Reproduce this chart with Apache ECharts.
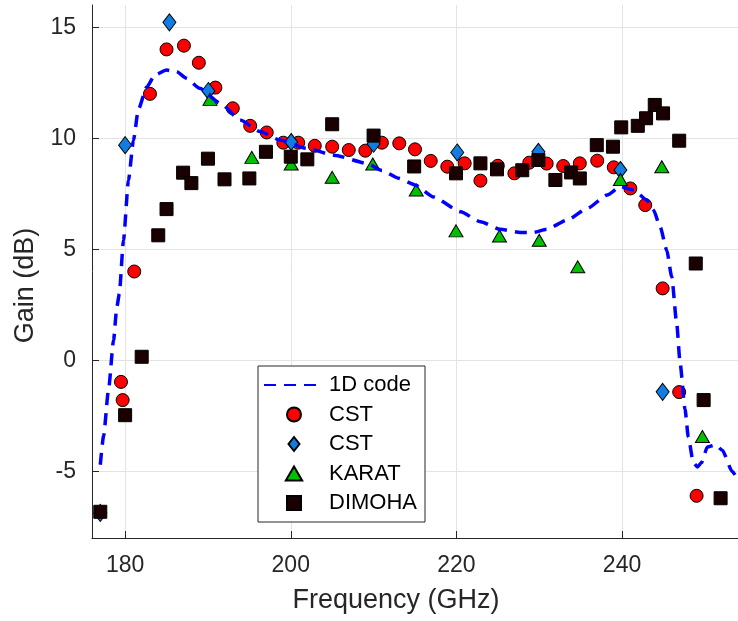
<!DOCTYPE html>
<html><head><meta charset="utf-8">
<script src="https://cdn.jsdelivr.net/npm/echarts@6/dist/echarts.min.js"></script>
<style>html,body{margin:0;padding:0;background:#fff}#c{width:738px;height:621px}</style>
</head><body><div id="c"></div>
<script>
// ---- data ----
const xTicks = [180, 200, 220, 240];
const yTicks = [-5, 0, 5, 10, 15];

const codeFreq = [177.0,177.4,178.0,178.6,179.0,179.3,179.8,180.4,181.0,181.6,182.6,183.6,185.0,186.2,187.4,189.0,191.5,193.9,196.3,198.7,201.9,205.2,209.2,211.0,213.0,215.0,217.2,220.5,222.9,225.3,227.7,229.3,230.9,233.4,235.8,238.2,239.8,241.4,243.0,243.8,244.6,245.4,246.0,246.6,247.0,247.6,248.0,248.6,249.1,249.6,250.3,251.3,252.1,253.3,254.0];
const codeGain = [-4.7,-3.4,-1.3,0.9,2.4,3.0,5.4,8.1,9.9,11.3,12.3,12.85,13.07,13.0,12.7,12.25,11.57,10.82,10.3,9.92,9.55,9.24,8.87,8.55,8.2,7.9,7.36,6.69,6.24,5.9,5.76,5.76,5.9,6.32,6.84,7.44,7.82,7.67,7.22,6.77,6.01,4.96,3.76,1.66,-0.1,-2.2,-3.45,-4.6,-4.8,-4.6,-3.9,-3.8,-4.05,-5.0,-5.4];

const cstFreq = [179.5,179.7,181.1,183.0,185.0,187.1,188.9,190.9,193.0,195.1,197.1,199.1,200.9,202.9,205.0,207.0,209.0,211.0,213.1,215.0,216.9,218.9,221.0,222.9,225.0,227.0,228.8,230.9,232.9,234.9,237.0,239.0,241.0,242.8,244.9,246.9,249.0];
const cstGain = [-0.97,-1.79,4.0,12.0,14.0,14.17,13.4,12.28,11.35,10.56,10.26,9.8,9.8,9.66,9.62,9.47,9.44,9.8,9.77,9.5,8.98,8.72,8.87,8.09,8.76,8.42,8.9,8.86,8.75,8.87,8.99,8.69,7.74,6.99,3.24,-1.43,-6.1];

const cst2Freq = [177.0,180.0,185.35,190.05,200.05,210.0,220.1,229.9,239.8,244.9];
const cst2Gain = [-6.87,9.69,15.22,12.13,9.83,9.75,9.36,9.39,8.57,-1.42];

const karatFreq = [190.25,195.3,200.05,205.0,209.9,215.15,219.95,225.2,230.0,234.65,239.8,244.8,249.7];
const karatGain = [11.75,9.14,8.84,8.24,8.84,7.67,5.83,5.6,5.41,4.21,8.14,8.72,-3.43];

const dimFreq = [177.0,180.0,182.0,184.0,185.0,187.0,188.0,190.0,192.0,195.0,197.0,200.0,202.0,205.0,210.0,214.9,219.95,222.9,224.9,227.95,229.9,231.95,233.85,234.9,236.95,238.9,239.9,241.9,242.9,243.95,244.95,246.9,248.9,249.85,251.9];
const dimGain = [-6.82,-2.47,0.16,5.63,6.81,8.45,7.98,9.08,8.15,8.19,9.39,9.17,9.05,10.63,10.12,8.73,8.42,8.87,8.6,8.56,9.02,8.12,8.46,8.19,9.69,9.62,10.49,10.56,10.9,11.5,11.12,9.89,4.36,-1.79,-6.21];

const seriesNames = ['1D code', 'CST', 'CST ', 'KARAT', 'DIMOHA'];

// ---- chart ----
const zip = (a, b) => a.map((v, i) => [v, b[i]]);
const FONT = 'Liberation Sans, Arial, Helvetica, sans-serif';
const TXT = '#262626';
const chart = echarts.init(document.getElementById('c'), null, {renderer: 'canvas'});
const mk = {borderColor: '#000', borderWidth: 1, opacity: 1};
chart.setOption({
  animation: false,
  backgroundColor: '#fff',
  grid: {left: 92, right: 0, top: 5, bottom: 83},
  xAxis: {
    type: 'value', min: 176, max: 254,
    name: 'Frequency (GHz)', nameLocation: 'middle', nameGap: 49,
    nameTextStyle: {fontSize: 27, color: TXT, fontFamily: FONT, padding: [0, 38, 0, 0]},
    axisLine: {show: true, onZero: false, lineStyle: {color: TXT, width: 1}},
    axisTick: {show: true, inside: true, length: 7, customValues: xTicks, lineStyle: {color: TXT}},
    axisLabel: {customValues: xTicks, fontSize: 23, color: TXT, fontFamily: FONT, margin: 16},
    splitLine: {show: true, lineStyle: {color: '#e3e3e3', width: 1}}
  },
  yAxis: {
    type: 'value', min: -8, max: 16,
    name: 'Gain (dB)', nameLocation: 'middle', nameGap: 52, nameRotate: 90,
    nameTextStyle: {fontSize: 27, color: TXT, fontFamily: FONT, padding: [0, 28, 0, 0]},
    axisLine: {show: true, onZero: false, lineStyle: {color: TXT, width: 1}},
    axisTick: {show: true, inside: true, length: 7, customValues: yTicks, lineStyle: {color: TXT}},
    axisLabel: {customValues: yTicks, fontSize: 23, color: TXT, fontFamily: FONT, margin: 16},
    splitLine: {show: true, lineStyle: {color: '#e3e3e3', width: 1}}
  },
  legend: {
    orient: 'vertical', left: 258, top: 366,
    itemWidth: 60, itemHeight: 14, itemGap: 7.5,
    padding: [8, 8, 8, 5],
    borderColor: TXT, borderWidth: 1, backgroundColor: '#fff',
    textStyle: {fontSize: 22, color: '#000', fontFamily: FONT, lineHeight: 22},
    data: [
      {name: seriesNames[0], itemStyle: {opacity: 0}},
      {name: seriesNames[1], icon: 'circle'},
      {name: seriesNames[2], icon: 'path://M5.5,0L11,7L5.5,14L0,7Z'},
      {name: seriesNames[3], icon: 'path://M7,0L14,12L0,12Z'},
      {name: seriesNames[4], icon: 'path://M0,0L13,0L13,13L0,13Z'}
    ]
  },
  series: [
    {name: seriesNames[0], type: 'line', data: zip(codeFreq, codeGain), showSymbol: false, symbol: 'none',
     smooth: 0.2, smoothMonotone: 'x',
     lineStyle: {color: '#0000ff', width: 3.5, type: [12, 8]}, itemStyle: {color: '#0000ff'}},
    {name: seriesNames[1], type: 'scatter', data: zip(cstFreq, cstGain), symbol: 'circle', symbolSize: 13,
     itemStyle: Object.assign({color: '#ff0000'}, mk)},
    {name: seriesNames[2], type: 'scatter', data: zip(cst2Freq, cst2Gain), symbol: 'diamond', symbolSize: [13, 17],
     itemStyle: Object.assign({color: '#0f7ee0'}, mk)},
    {name: seriesNames[3], type: 'scatter', data: zip(karatFreq, karatGain), symbol: 'triangle', symbolSize: [14, 12],
     itemStyle: Object.assign({color: '#00c000'}, mk)},
    {name: seriesNames[4], type: 'scatter', data: zip(dimFreq, dimGain), symbol: 'rect', symbolSize: 13,
     itemStyle: Object.assign({color: '#1a0000'}, mk)}
  ]
});
</script>
</body></html>
